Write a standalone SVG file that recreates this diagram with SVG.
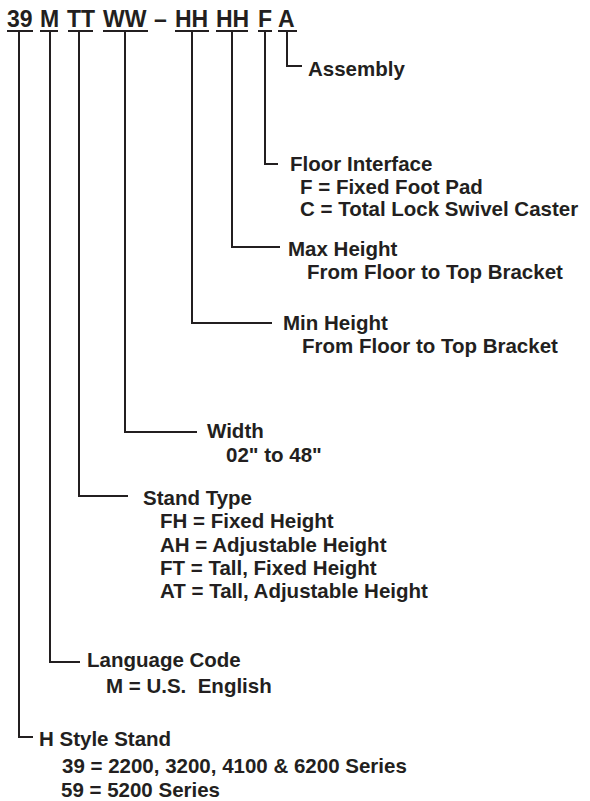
<svg xmlns="http://www.w3.org/2000/svg" width="590" height="801" viewBox="0 0 590 801">
<style>
text{font-family:"Liberation Sans",Arial,Helvetica,sans-serif;font-weight:bold;fill:#231f20}
.t{font-size:23px}
.l{font-size:20.5px}
.u{stroke:#231f20;stroke-width:2.2;fill:none}
.c{stroke:#231f20;stroke-width:2;fill:none}
</style>
<rect width="590" height="801" fill="#fff"/>
<g id="code">
<text class="t" x="7" y="26.5">39</text>
<text class="t" x="40" y="26.5">M</text>
<text class="t" x="67" y="26.5">TT</text>
<text class="t" x="103" y="26.5">WW</text>
<text class="t" x="154" y="26.5">–</text>
<text class="t" x="175" y="26.5">HH</text>
<text class="t" x="216" y="26.5">HH</text>
<text class="t" x="258" y="26.5">F</text>
<text class="t" x="278" y="26.5">A</text>
<path class="u" d="M7 31H33M40 31H58M68 31H93M103 31H148M175 31H209M216 31H248M258 31H272M278 31H297"/>
</g>
<g id="connectors">
<path class="c" d="M19 31V737H33"/>
<path class="c" d="M50 31V662H80"/>
<path class="c" d="M79 31V496H128"/>
<path class="c" d="M125 31V432H197"/>
<path class="c" d="M192 31V323H272"/>
<path class="c" d="M232 31V247H280"/>
<path class="c" d="M265 31V164H278"/>
<path class="c" d="M287 31V66H302"/>
</g>
<g id="assembly"><text class="l" x="308" y="76">Assembly</text></g>
<g id="floor-interface">
<text class="l" x="290" y="171">Floor Interface</text>
<text class="l" x="300" y="193.5">F = Fixed Foot Pad</text>
<text class="l" x="300" y="216">C = Total Lock Swivel Caster</text>
</g>
<g id="max-height">
<text class="l" x="288" y="256">Max Height</text>
<text class="l" x="307" y="278.5">From Floor to Top Bracket</text>
</g>
<g id="min-height">
<text class="l" x="283" y="330">Min Height</text>
<text class="l" x="302" y="353">From Floor to Top Bracket</text>
</g>
<g id="width">
<text class="l" x="207" y="438">Width</text>
<text class="l" x="226" y="462">02" to 48"</text>
</g>
<g id="stand-type">
<text class="l" x="143" y="505">Stand Type</text>
<text class="l" x="160" y="528">FH = Fixed Height</text>
<text class="l" x="160" y="552">AH = Adjustable Height</text>
<text class="l" x="160" y="575">FT = Tall, Fixed Height</text>
<text class="l" x="160" y="598">AT = Tall, Adjustable Height</text>
</g>
<g id="language-code">
<text class="l" x="87" y="667">Language Code</text>
<text class="l" x="106" y="693" xml:space="preserve" style="white-space:pre">M = U.S.  English</text>
</g>
<g id="h-style-stand">
<text class="l" x="39" y="746">H Style Stand</text>
<text class="l" x="62" y="773">39 = 2200, 3200, 4100 &amp; 6200 Series</text>
<text class="l" x="61" y="797">59 = 5200 Series</text>
</g>
</svg>
